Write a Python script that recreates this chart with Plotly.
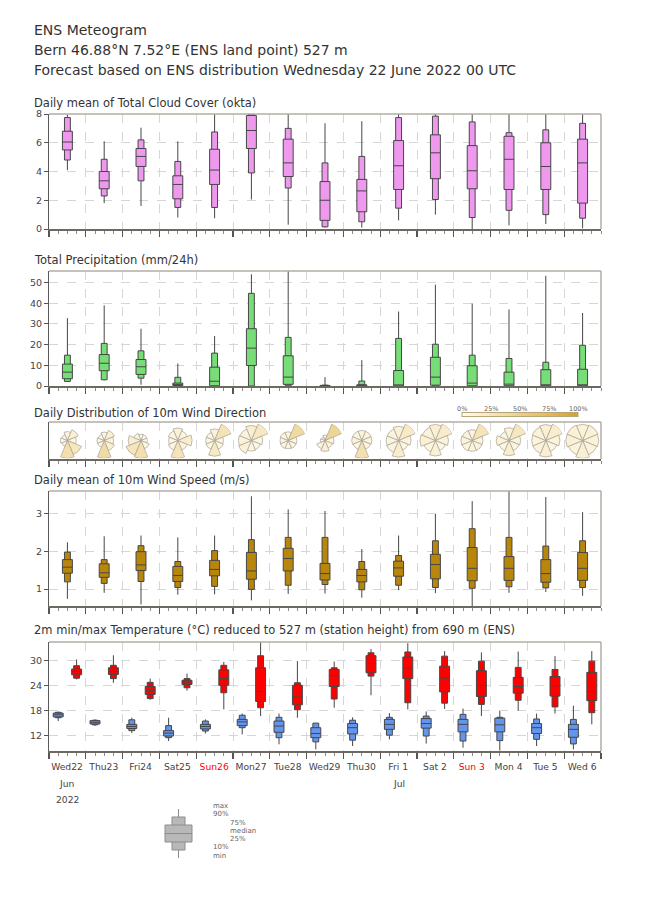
import numpy as np
import plotly.graph_objects as go

W, H = 650, 916
PL, PR = 49, 601            # plot area left/right in px
PW = PR - PL

days = ["Wed22", "Thu23", "Fri24", "Sat25", "Sun26", "Mon27", "Tue28", "Wed29",
        "Thu30", "Fri 1", "Sat 2", "Sun 3", "Mon 4", "Tue 5", "Wed 6"]
sundays = [4, 11]

# stats per day: min, p10, p25, median, p75, p90, max
cloud = [
    [4.1, 4.8, 5.5, 6.05, 6.8, 7.75, 7.95],
    [1.8, 2.3, 2.8, 3.35, 4.0, 4.85, 6.1],
    [1.6, 3.35, 4.35, 5.05, 5.6, 6.2, 7.05],
    [0.8, 1.5, 2.1, 3.1, 3.7, 4.7, 6.1],
    [0.75, 1.5, 3.1, 4.1, 5.55, 6.75, 8.0],
    [2.05, 3.9, 5.6, 6.85, 7.9, 8.0, 8.0],
    [0.3, 2.85, 3.65, 4.6, 6.25, 7.0, 8.0],
    [0.1, 0.15, 0.6, 2.0, 3.3, 4.6, 7.35],
    [0.1, 0.5, 1.2, 2.65, 3.45, 5.05, 7.5],
    [0.6, 1.45, 2.75, 4.4, 6.15, 7.75, 8.0],
    [1.0, 2.05, 3.5, 5.3, 6.55, 7.85, 8.0],
    [0.0, 0.8, 2.8, 4.05, 5.8, 7.45, 8.0],
    [0.25, 1.3, 2.75, 4.85, 6.45, 6.7, 8.0],
    [0.35, 1.0, 2.75, 4.35, 6.0, 6.9, 8.0],
    [0.05, 0.75, 1.8, 4.6, 6.25, 7.35, 8.0],
]
precip = [
    [1.9, 2.2, 3.5, 6.7, 10.6, 14.9, 32.8],
    [2.7, 3.0, 7.4, 11.0, 15.2, 20.6, 39.0],
    [0.6, 3.8, 5.6, 9.3, 12.8, 17.0, 27.7],
    [0.0, 0.1, 0.2, 0.6, 1.4, 4.2, 10.9],
    [0.0, 0.0, 0.1, 2.3, 9.1, 15.9, 24.2],
    [0.0, 0.0, 9.9, 18.3, 27.7, 44.8, 54.0],
    [0.0, 0.1, 0.8, 4.3, 14.6, 23.5, 55.6],
    [0.0, 0.0, 0.0, 0.0, 0.3, 0.4, 4.3],
    [0.0, 0.0, 0.0, 0.1, 0.6, 2.4, 12.5],
    [0.0, 0.0, 0.05, 0.3, 7.5, 23.0, 36.0],
    [0.0, 0.0, 0.4, 4.3, 13.9, 20.2, 49.0],
    [0.0, 0.0, 0.1, 1.4, 9.8, 14.9, 39.9],
    [0.0, 0.0, 0.1, 0.9, 6.7, 13.3, 37.0],
    [0.0, 0.0, 0.1, 0.3, 7.9, 11.5, 53.3],
    [0.0, 0.0, 0.1, 0.5, 8.1, 19.7, 35.3],
]
wind = [
    [0.74, 1.19, 1.42, 1.58, 1.78, 1.98, 2.24],
    [0.90, 1.15, 1.31, 1.43, 1.67, 1.78, 2.40],
    [0.59, 1.20, 1.49, 1.64, 1.99, 2.15, 2.42],
    [0.85, 1.04, 1.20, 1.36, 1.60, 1.73, 2.37],
    [0.86, 1.07, 1.35, 1.52, 1.76, 2.02, 2.42],
    [0.70, 0.99, 1.26, 1.48, 1.97, 2.31, 3.46],
    [0.87, 1.10, 1.48, 1.81, 2.08, 2.37, 3.11],
    [0.88, 1.12, 1.24, 1.41, 1.68, 2.37, 3.07],
    [0.77, 0.98, 1.19, 1.36, 1.52, 1.73, 2.06],
    [0.97, 1.10, 1.34, 1.56, 1.74, 1.89, 2.42],
    [0.89, 1.04, 1.27, 1.65, 1.92, 2.28, 2.99],
    [0.55, 1.02, 1.22, 1.55, 2.10, 2.60, 3.33],
    [0.90, 1.06, 1.23, 1.55, 1.86, 2.37, 3.60],
    [0.92, 1.03, 1.18, 1.41, 1.78, 2.14, 3.44],
    [0.82, 1.04, 1.23, 1.55, 1.97, 2.28, 3.04],
]
tmin = [
    [15.4, 16.2, 16.4, 16.9, 17.3, 17.5, 17.7],
    [14.2, 14.5, 14.7, 15.1, 15.5, 15.6, 15.8],
    [12.5, 13.1, 13.6, 14.1, 14.6, 15.7, 16.2],
    [10.6, 11.4, 11.8, 12.5, 13.1, 14.3, 16.2],
    [12.4, 13.0, 13.5, 14.1, 14.6, 15.4, 15.8],
    [12.2, 13.8, 14.3, 15.2, 15.8, 16.8, 17.2],
    [9.8, 11.4, 12.7, 14.2, 15.4, 16.3, 17.2],
    [8.6, 10.4, 11.4, 12.4, 13.8, 14.9, 15.0],
    [9.4, 10.8, 12.3, 13.8, 14.8, 15.6, 16.3],
    [11.0, 12.0, 13.4, 14.6, 15.8, 16.3, 17.3],
    [10.0, 11.8, 13.7, 14.8, 16.0, 16.6, 17.7],
    [9.0, 10.6, 12.8, 14.6, 15.8, 17.0, 18.4],
    [8.3, 10.7, 12.8, 14.5, 16.1, 16.3, 17.8],
    [9.4, 11.0, 12.4, 13.8, 14.8, 15.9, 17.2],
    [8.6, 9.9, 11.5, 13.4, 14.6, 15.8, 19.1],
]
tmax = [
    [25.4, 25.7, 26.5, 27.3, 27.9, 28.7, 30.2],
    [24.6, 25.6, 26.6, 27.3, 28.2, 28.8, 31.2],
    [20.5, 20.8, 21.8, 22.7, 23.7, 24.7, 25.6],
    [22.7, 23.4, 24.2, 24.8, 25.2, 25.6, 26.8],
    [18.2, 22.2, 24.0, 25.6, 27.7, 28.8, 29.6],
    [16.6, 18.6, 20.1, 22.5, 28.2, 31.1, 34.4],
    [16.2, 18.1, 19.3, 21.2, 24.0, 24.6, 29.8],
    [18.6, 20.7, 23.7, 26.3, 27.8, 28.2, 29.7],
    [21.6, 26.2, 27.0, 29.2, 31.1, 31.8, 32.7],
    [18.2, 19.8, 25.6, 28.2, 30.8, 32.0, 34.1],
    [18.3, 19.7, 22.4, 25.7, 28.6, 31.0, 32.2],
    [16.6, 19.4, 21.3, 23.9, 27.5, 29.8, 31.9],
    [17.9, 20.4, 22.1, 23.7, 25.9, 28.3, 32.1],
    [17.2, 18.8, 21.4, 23.9, 26.1, 27.8, 31.0],
    [14.6, 17.4, 20.3, 22.5, 27.1, 29.8, 32.2],
]
# wind direction frequency (%) per day: N, NE, E, SE, S, SW, W, NW
dir_labels = ["N", "NE", "E", "SE", "S", "SW", "W", "NW"]
dir_angles = [0, 45, 90, 135, 180, 225, 270, 315]
wind_dir = [
    [8, 14, 8, 24, 33, 4, 5, 4],
    [8, 14, 10, 14, 37, 6, 6, 5],
    [4, 4, 4, 8, 32, 26, 16, 6],
    [13, 9, 17, 9, 27, 9, 7, 9],
    [12, 29, 7, 8, 22, 8, 7, 7],
    [16, 23, 9, 7, 8, 14, 12, 11],
    [9, 39, 9, 9, 8, 9, 8, 9],
    [4, 44, 11, 9, 16, 11, 3, 2],
    [10, 10, 10, 9, 32, 9, 10, 10],
    [13, 21, 10, 7, 18, 11, 10, 10],
    [15, 19, 10, 7, 14, 9, 14, 12],
    [10, 28, 10, 10, 10, 11, 11, 10],
    [12, 24, 10, 9, 17, 9, 12, 7],
    [14, 18, 11, 8, 15, 11, 11, 12],
    [12, 13, 12, 11, 15, 11, 13, 13],
]
cb_ticks = [0, 25, 50, 75, 100]

FONT = "DejaVu Sans"
TXT = "#333333"
BOXLINE = "#464646"

# panel vertical extents (px from top)
panels = [(114, 229), (271, 386), (422, 459), (491, 606), (642, 751)]
titles = [
    (103, "Daily mean of Total Cloud Cover (okta)"),
    (260, "Total Precipitation (mm/24h)"),
    (413, "Daily Distribution of 10m Wind Direction"),
    (480, "Daily mean of 10m Wind Speed (m/s)"),
    (630, "2m min/max Temperature (°C) reduced to 527 m (station height) from 690 m (ENS)"),
]


def px_x(p):
    return (p - PL) / PW


def px_y(p):
    return 1 - p / H


fig = go.Figure()
xs_mid = np.arange(15) + 0.5


def add_boxes(stats, xs, color, k, nw=0.16, ww=0.27):
    s = np.array(stats, dtype=float)
    mn, p10, p25, med, p75, p90, mx = s.T
    ax = "" if k == 1 else str(k)
    common = dict(x=xs, xaxis="x" + ax, yaxis="y" + ax, fillcolor=color,
                  whiskerwidth=0, boxpoints=False, showlegend=False,
                  hoverinfo="skip")
    fig.add_trace(go.Box(q1=p10, median=med, q3=p90, lowerfence=mn,
                         upperfence=mx, width=nw,
                         line=dict(color=BOXLINE, width=1), **common))
    fig.add_trace(go.Box(q1=p25, median=med, q3=p75, lowerfence=p25,
                         upperfence=p75, width=ww,
                         line=dict(color=BOXLINE, width=1), **common))


add_boxes(cloud, xs_mid, "#EE99EE", 1)
add_boxes(precip, xs_mid, "#77DD77", 2)
# empty trace so that the wind-direction frame (x3/y3) is drawn
fig.add_trace(go.Scatter(x=[None], y=[None], xaxis="x3", yaxis="y3",
                         mode="markers", showlegend=False, hoverinfo="skip"))
add_boxes(wind, xs_mid, "#B8860B", 4)
add_boxes(tmin, np.arange(15) + 0.25, "#6495ED", 5)
add_boxes(tmax, np.arange(15) + 0.75, "#FF0000", 5)

# wind roses
cscale = [[0, "#FFFDF2"], [1, "#D9A21E"]]
R = 18
cy = 440.5
for i, freqs in enumerate(wind_dir):
    f = np.array(freqs, dtype=float)
    pid = "polar" if i == 0 else f"polar{i + 1}"
    marker = dict(color=f, colorscale=cscale, cmin=0, cmax=100,
                  line=dict(color="#a8a096", width=0.7))
    if i == 0:
        marker.update(showscale=True, colorbar=dict(
            orientation="h", x=px_x(520), xanchor="center",
            y=px_y(415.5), yanchor="middle", len=116, lenmode="pixels",
            thickness=4, thicknessmode="pixels", outlinewidth=1,
            outlinecolor="#b8a57a", showticklabels=False, ticks="",
            xpad=0, ypad=0))
    fig.add_trace(go.Barpolar(r=np.sqrt(f), theta=dir_angles, width=45,
                              marker=marker, subplot=pid, showlegend=False,
                              hoverinfo="skip"))
    cx = PL + (i + 0.5) * PW / 15
    fig.layout[pid] = dict(
        domain=dict(x=[px_x(cx - R), px_x(cx + R)], y=[px_y(cy + R), px_y(cy - R)]),
        bgcolor="rgba(0,0,0,0)", bargap=0, hole=0,
        radialaxis=dict(visible=False, range=[0, float(np.sqrt(f.max()))]),
        angularaxis=dict(visible=False, rotation=90, direction="clockwise"),
    )

# axes
ticktext = []
for i, d in enumerate(days):
    ticktext.append(f"<span style='color:red'>{d}</span>" if i in sundays else d)
ticktext.append("")

yspecs = [
    dict(range=[0, 8], tickvals=[0, 2, 4, 6, 8]),
    dict(range=[0, 55.6], tickvals=[0, 10, 20, 30, 40, 50]),
    dict(range=[0, 1], tickvals=[], showticklabels=False, ticks=""),
    dict(range=[0.55, 3.6], tickvals=[1, 2, 3]),
    dict(range=[8.2, 34.4], tickvals=[12, 18, 24, 30]),
]

shapes = []
for k in range(1, 6):
    top, bot = panels[k - 1]
    ax = "" if k == 1 else str(k)
    fig.layout["xaxis" + ax] = dict(
        domain=[0, 1], range=[0, 15], anchor="y" + ax,
        tickmode="array", tickvals=list(range(16)), ticktext=ticktext,
        showticklabels=(k == 5), ticklabelshift=int(round(PW / 30)),
        tickfont=dict(size=9.2, color="#444"),
        ticks="outside", ticklen=6, tickwidth=1.2, tickcolor="#555",
        showgrid=True, gridcolor="#d6d6d6", griddash="dash", gridwidth=1,
        showline=True, linecolor="#6e6862", linewidth=2, zeroline=False,
        minor=dict(dtick=0.25, tick0=0, ticks="outside", ticklen=3,
                   tickcolor="#8a8a8a", tickwidth=1, showgrid=False),
        fixedrange=True,
    )
    ys = dict(domain=[px_y(bot), px_y(top)], anchor="x" + ax,
              tickmode="array", ticks="outside", ticklen=4, tickcolor="#555",
              tickfont=dict(size=9.5, color="#444"),
              showgrid=True, gridcolor="#d6d6d6", griddash="dash", gridwidth=1,
              showline=True, linecolor="#5a5a5a", linewidth=1, zeroline=False,
              fixedrange=True)
    ys.update(yspecs[k - 1])
    fig.layout["yaxis" + ax] = ys
    # top and right frame lines (paper coordinates)
    shapes.append(dict(type="line", xref="paper", yref="paper",
                       x0=0, x1=1, y0=px_y(top), y1=px_y(top),
                       line=dict(color="#b3aca4", width=1.5)))
    shapes.append(dict(type="line", xref="paper", yref="paper",
                       x0=1, x1=1, y0=px_y(bot), y1=px_y(top),
                       line=dict(color="#b3aca4", width=1.5)))

annotations = []
for y, t in [(30, "ENS Meteogram"),
             (50, "Bern 46.88°N 7.52°E (ENS land point) 527 m"),
             (70, "Forecast based on ENS distribution Wednesday 22 June 2022 00 UTC")]:
    annotations.append(dict(xref="paper", yref="paper", x=px_x(32), y=px_y(y),
                            xanchor="left", yanchor="middle", showarrow=False,
                            text=t, font=dict(size=14, color=TXT)))
for y, t in titles:
    annotations.append(dict(xref="paper", yref="paper", x=px_x(32), y=px_y(y),
                            xanchor="left", yanchor="middle", showarrow=False,
                            text=t, font=dict(size=11.5, color=TXT)))
# month / year lines under day labels
for x, y, t in [(0.5, 783, "Jun"), (0.5, 799, "2022"), (9.5, 783, "Jul")]:
    annotations.append(dict(xref="x5", yref="paper", x=x, y=px_y(y),
                            xanchor="center", yanchor="middle", showarrow=False,
                            text=t, font=dict(size=9.2, color="#444")))
# colorbar labels
for v in cb_ticks:
    annotations.append(dict(xref="paper", yref="paper", x=px_x(462 + v / 100 * 116),
                            y=px_y(409), xanchor="center", yanchor="middle",
                            showarrow=False, text=f"{v}%",
                            font=dict(size=6.5, color="#666")))

# legend glyph for the box plots
LEGF = "#b8b8b8"
LEGL = "#8c8c8c"


def pshape(**kw):
    d = dict(xref="paper", yref="paper")
    d.update(kw)
    shapes.append(d)


pshape(type="line", x0=px_x(178.5), x1=px_x(178.5), y0=px_y(809), y1=px_y(817),
       line=dict(color=LEGL, width=1))
pshape(type="line", x0=px_x(178.5), x1=px_x(178.5), y0=px_y(850), y1=px_y(858),
       line=dict(color=LEGL, width=1))
pshape(type="rect", x0=px_x(172), x1=px_x(185), y0=px_y(850), y1=px_y(817),
       fillcolor=LEGF, line=dict(color=LEGL, width=1))
pshape(type="rect", x0=px_x(165), x1=px_x(192), y0=px_y(842), y1=px_y(825),
       fillcolor=LEGF, line=dict(color=LEGL, width=1))
pshape(type="line", x0=px_x(165), x1=px_x(192), y0=px_y(833.5), y1=px_y(833.5),
       line=dict(color=LEGL, width=1))
for x, y, t in [(211, 806, "max"), (211, 814, "90%"), (228, 822.5, "75%"),
                (228, 830.5, "median"), (228, 838.5, "25%"), (211, 847, "10%"),
                (211, 856, "min")]:
    annotations.append(dict(xref="paper", yref="paper", x=px_x(x), y=px_y(y),
                            xanchor="left", yanchor="middle", showarrow=False,
                            text=t, font=dict(size=7, color="#666")))

fig.update_layout(
    width=W, height=H,
    margin=dict(l=PL, r=W - PR, t=0, b=0, autoexpand=False),
    paper_bgcolor="white", plot_bgcolor="white",
    font=dict(family=FONT, color=TXT),
    boxmode="overlay", showlegend=False, hovermode=False,
    shapes=shapes, annotations=annotations,
)

fig.write_html("out.html",
               config={"displayModeBar": False, "staticPlot": True},
               post_script="document.body.style.margin='0px';"
                           "document.body.style.overflow='hidden';")
